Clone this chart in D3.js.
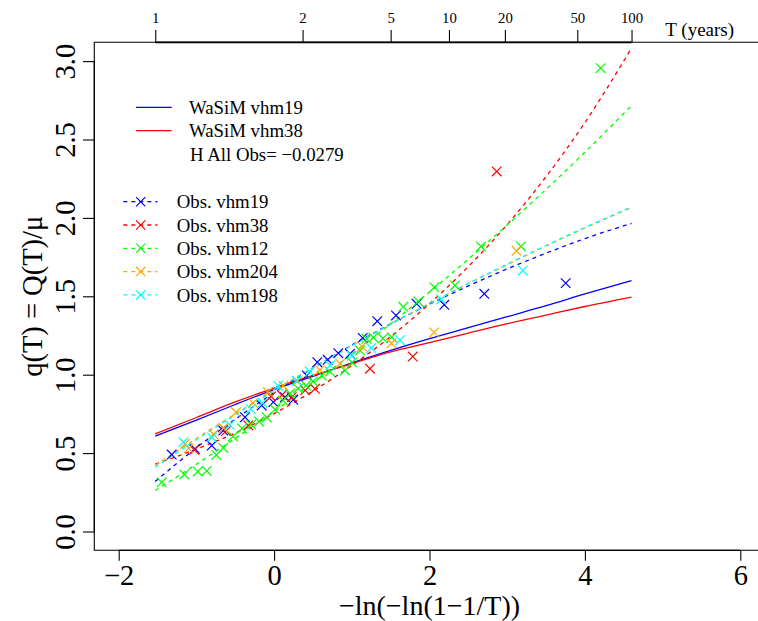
<!DOCTYPE html>
<html><head><meta charset="utf-8">
<script src="https://cdn.jsdelivr.net/npm/d3@7"></script>
<style>body{margin:0;background:#fff} svg{display:block}</style>
</head><body><svg id="c" width="758" height="621"></svg>
<script>
// ---- data ----
const curveX = [-1.53,-1,-0.5,0,0.5,1,1.5,2,2.5,3,3.5,4,4.6];
const wasimVhm19 = [0.608,0.71,0.81,0.905,0.99,1.075,1.155,1.23,1.30,1.37,1.44,1.515,1.60];
const wasimVhm38 = [0.623,0.727,0.826,0.915,0.995,1.07,1.145,1.205,1.265,1.325,1.38,1.435,1.495];
const fitVhm19  = [0.319,0.534,0.716,0.886,1.043,1.189,1.324,1.450,1.566,1.675,1.775,1.868,1.965];
const fitVhm38  = [0.43,0.525,0.628,0.752,0.896,1.059,1.243,1.453,1.690,1.958,2.263,2.608,3.083];
const fitVhm12  = [0.261,0.429,0.594,0.766,0.945,1.131,1.325,1.527,1.737,1.955,2.182,2.419,2.716];
const fitVhm204 = [0.421,0.593,0.749,0.900,1.046,1.186,1.322,1.453,1.580,1.702,1.821,1.935,2.066];
const fitVhm198 = [0.41,0.585,0.744,0.897,1.044,1.185,1.322,1.454,1.582,1.705,1.824,1.939,2.07];

const obsVhm19 = [[-1.318,0.491],[-1.018,0.527],[-0.803,0.548],[-0.654,0.644],[-0.375,0.729],[-0.16,0.804],[-0.01,0.825],[0.14,0.857],[0.247,0.84],[0.42,0.995],[0.556,1.08],[0.69,1.095],[0.826,1.137],[0.977,1.133],[1.14,1.235],[1.328,1.341],[1.569,1.378],[1.835,1.452],[2.19,1.446],[2.705,1.516],[3.753,1.584]];
const obsVhm38 = [[-1.027,0.521],[-0.62,0.64],[-0.332,0.676],[-0.04,0.861],[0.10,0.87],[0.227,0.857],[0.40,0.90],[0.526,0.91],[1.234,1.038],[1.784,1.116],[2.865,2.296]];
const obsVhm12 = [[-1.447,0.314],[-1.156,0.364],[-0.983,0.383],[-0.867,0.386],[-0.744,0.488],[-0.654,0.533],[-0.529,0.606],[-0.413,0.657],[-0.297,0.682],[-0.194,0.702],[-0.095,0.727],[0.012,0.778],[0.115,0.835],[0.205,0.88],[0.308,0.912],[0.411,0.931],[0.501,0.957],[0.613,0.995],[0.719,1.02],[0.912,1.027],[1.003,1.078],[1.106,1.154],[1.19,1.229],[1.277,1.237],[1.40,1.231],[1.514,1.239],[1.663,1.433],[1.856,1.467],[2.062,1.558],[2.328,1.569],[2.663,1.818],[3.178,1.818],[4.203,2.955]];
const obsVhm204 = [[-1.147,0.559],[-1.10,0.53],[-0.78,0.62],[-0.65,0.66],[-0.49,0.76],[-0.27,0.82],[-0.08,0.89],[0.12,0.93],[0.30,0.96],[0.59,1.03],[0.85,1.07],[1.13,1.18],[1.51,1.20],[2.06,1.27],[3.12,1.79]];
const obsVhm198 = [[-1.168,0.57],[-0.80,0.60],[-0.57,0.68],[-0.30,0.78],[-0.15,0.82],[0.05,0.93],[0.29,0.96],[0.46,1.02],[0.72,1.06],[1.00,1.12],[1.25,1.17],[1.62,1.22],[2.15,1.48],[3.20,1.665]];

const xTicks = [-2,0,2,4,6];
const yTicks = [0,0.5,1,1.5,2,2.5,3];
const tYears = [1.01,2,5,10,20,50,100];
const tLabels = ["1","2","5","10","20","50","100"];
const hValue = "\u22120.0279";

const series = [
  {name:"Obs. vhm19",  color:"#0000FF", fit:fitVhm19,  obs:obsVhm19},
  {name:"Obs. vhm38",  color:"#FF0000", fit:fitVhm38,  obs:obsVhm38},
  {name:"Obs. vhm12",  color:"#00FF00", fit:fitVhm12,  obs:obsVhm12},
  {name:"Obs. vhm204", color:"#FFA500", fit:fitVhm204, obs:obsVhm204},
  {name:"Obs. vhm198", color:"#00FFFF", fit:fitVhm198, obs:obsVhm198}
];
const models = [
  {name:"WaSiM vhm19", color:"#0000FF", vals:wasimVhm19},
  {name:"WaSiM vhm38", color:"#FF0000", vals:wasimVhm38}
];

// ---- layout ----
const L = 94.3, R = 764.7, T = 42.3, B = 550.3;
const FONT = "Liberation Serif, Times New Roman, serif";
const svg = d3.select("#c");
const x = d3.scaleLinear().domain([-2.314, 6.314]).range([L, R]);
const y = d3.scaleLinear().domain([-0.12, 3.12]).range([B, T]);
const gumbel = t => -Math.log(-Math.log(1 - 1/t));

const line = d3.line().x((d,i)=>x(curveX[i])).y(d=>y(d)).curve(d3.curveMonotoneX);

function cross(g, cx, cy, col, h) {
  g.append("path")
   .attr("d", `M${cx-h},${cy-h}L${cx+h},${cy+h}M${cx-h},${cy+h}L${cx+h},${cy-h}`)
   .attr("stroke", col).attr("stroke-width", 1.2).attr("fill","none");
}

models.forEach(m => {
  svg.append("path").attr("d", line(m.vals)).attr("fill","none")
     .attr("stroke", m.color).attr("stroke-width", 1.3);
});
series.forEach(s => {
  svg.append("path").attr("d", line(s.fit)).attr("fill","none")
     .attr("stroke", s.color).attr("stroke-width", 1.3).attr("stroke-dasharray","4,4");
});
series.forEach(s => {
  const g = svg.append("g");
  s.obs.forEach(p => cross(g, x(p[0]), y(p[1]), s.color, 4.8));
});

svg.append("path").attr("d", `M${R+5},${T}H${L}V${B}H${R+5}`)
   .attr("fill","none").attr("stroke","#000").attr("stroke-width",1.1);

const gx = svg.append("g").attr("transform",`translate(0,${B})`)
  .call(d3.axisBottom(x).tickValues(xTicks).tickSize(10.5).tickFormat(d3.format("d")));
gx.select(".domain").remove();
gx.selectAll("line").attr("stroke","#000").attr("stroke-width",1.1);
gx.selectAll("text").attr("font-family",FONT).attr("font-size","28.5px").attr("fill","#000")
  .attr("y", 35).attr("dy", 0);
svg.append("line").attr("x1",x(-2)).attr("x2",x(6)).attr("y1",B).attr("y2",B)
   .attr("stroke","#000").attr("stroke-width",1.2);

const gy = svg.append("g").attr("transform",`translate(${L},0)`)
  .call(d3.axisLeft(y).tickValues(yTicks).tickSize(11.3).tickFormat(d3.format(".1f")));
gy.select(".domain").remove();
gy.selectAll("line").attr("stroke","#000").attr("stroke-width",1.1);
gy.selectAll("text").attr("font-family",FONT).attr("font-size","28.5px").attr("fill","#000")
  .attr("x",0).attr("dy",0).attr("text-anchor","middle")
  .attr("transform","translate(-19.3,0) rotate(-90)");
svg.append("line").attr("x1",L).attr("x2",L).attr("y1",y(0)).attr("y2",y(3))
   .attr("stroke","#000").attr("stroke-width",1.2);

const gt = svg.append("g").attr("transform",`translate(0,${T})`)
  .call(d3.axisTop(x).tickValues(tYears.map(gumbel)).tickSize(12.3).tickFormat((d,i)=>tLabels[i]));
gt.select(".domain").remove();
gt.selectAll("line").attr("stroke","#000").attr("stroke-width",1.1);
gt.selectAll("text").attr("font-family",FONT).attr("font-size","14.8px").attr("fill","#000")
  .attr("y",-19.3).attr("dy",0);
svg.append("line").attr("x1",x(gumbel(tYears[0]))).attr("x2",x(gumbel(tYears[tYears.length-1])))
   .attr("y1",T).attr("y2",T).attr("stroke","#000").attr("stroke-width",1.8);
svg.append("text").attr("x",665.3).attr("y",36).attr("font-family",FONT).attr("font-size","19px")
   .text("T (years)");

svg.append("text").attr("x",(L+R)/2).attr("y",614.5).attr("text-anchor","middle")
   .attr("font-family",FONT).attr("font-size","28px").text("\u2212ln(\u2212ln(1\u22121/T))");
svg.append("text").attr("transform",`translate(42,${(T+B)/2}) rotate(-90)`).attr("text-anchor","middle")
   .attr("font-family",FONT).attr("font-size","28.5px").text("q(T) = Q(T)/\u03bc");

const lg1 = svg.append("g");
models.forEach((m,i) => {
  const cy = 107.3 + i*23.4;
  lg1.append("line").attr("x1",136).attr("x2",171.7).attr("y1",cy).attr("y2",cy)
     .attr("stroke",m.color).attr("stroke-width",1.3);
  lg1.append("text").attr("x",189).attr("y",cy+6.6).attr("font-family",FONT)
     .attr("font-size","18.8px").text(m.name);
});
lg1.append("text").attr("x",190).attr("y",107.3+2*23.4+6.6).attr("font-family",FONT)
   .attr("font-size","18.8px").text("H All Obs= " + hValue);

const lg2 = svg.append("g");
series.forEach((s,i) => {
  const cy = 201.7 + i*23.3;
  lg2.append("line").attr("x1",123.3).attr("x2",157.5).attr("y1",cy).attr("y2",cy)
     .attr("stroke",s.color).attr("stroke-width",1.3).attr("stroke-dasharray","4,4");
  cross(lg2, 140.7, cy, s.color, 4.6);
  lg2.append("text").attr("x",176.7).attr("y",cy+6.6).attr("font-family",FONT)
     .attr("font-size","18.8px").text(s.name);
});
</script></body></html>
